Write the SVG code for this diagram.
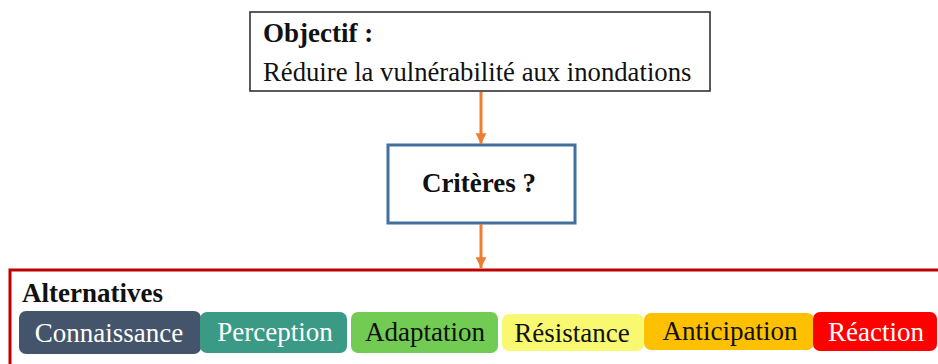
<svg xmlns="http://www.w3.org/2000/svg" width="938" height="364" viewBox="0 0 938 364" font-family="'Liberation Serif', 'DejaVu Serif', serif">
  <defs>
    <marker id="arrowhead" viewBox="0 0 10 10" refX="10" refY="5" markerWidth="3.6" markerHeight="4.4" markerUnits="strokeWidth" orient="auto">
      <path d="M0,0 L10,5 L0,10 z" fill="#ED7D31"/>
    </marker>
  </defs>
  <style>
    .bold { font-weight: bold; }
    .chip-label { font-size: 27px; text-anchor: middle; }
    .link { stroke: #ED7D31; stroke-width: 3; fill: none; marker-end: url(#arrowhead); }
  </style>
  <rect width="938" height="364" fill="#ffffff"/>

  <!-- objective -->
  <g id="objectif">
    <rect x="250" y="12" width="460" height="79" fill="#ffffff" stroke="#333333" stroke-width="1.6"/>
    <text x="263" y="42" class="bold" font-size="27" fill="#111111">Objectif :</text>
    <text x="263" y="81" font-size="26.7" fill="#111111">Réduire la vulnérabilité aux inondations</text>
  </g>

  <!-- criteria -->
  <g id="criteres">
    <rect x="388" y="145" width="187" height="78" fill="#ffffff" stroke="#41719C" stroke-width="3"/>
    <text x="479" y="192" class="bold" font-size="27" text-anchor="middle" fill="#111111">Critères ?</text>
  </g>

  <!-- alternatives frame with its options -->
  <g id="alternatives">
    <rect x="10" y="270" width="940" height="110" fill="#ffffff" stroke="#C00000" stroke-width="3"/>
    <text x="22" y="302" class="bold" font-size="27" fill="#111111">Alternatives</text>
  </g>

  <g id="connaissance">
    <rect x="19" y="311" width="182" height="43" rx="7" fill="#44546A"/>
    <text x="109" y="342" class="chip-label" fill="#ffffff">Connaissance</text>
  </g>
  <g id="perception">
    <rect x="200" y="312" width="147" height="41" rx="7" fill="#3A9A85"/>
    <text x="275" y="341" class="chip-label" fill="#ffffff">Perception</text>
  </g>
  <g id="adaptation">
    <rect x="351" y="312" width="147" height="41" rx="7" fill="#72CB52"/>
    <text x="425" y="341" class="chip-label" fill="#111111">Adaptation</text>
  </g>
  <g id="resistance">
    <rect x="502" y="314" width="142" height="37" rx="7" fill="#F8F871"/>
    <text x="572" y="342" class="chip-label" fill="#111111">Résistance</text>
  </g>
  <g id="anticipation">
    <rect x="644" y="313" width="170" height="37" rx="7" fill="#FFC000"/>
    <text x="730" y="340" class="chip-label" fill="#111111">Anticipation</text>
  </g>
  <g id="reaction">
    <rect x="813" y="312" width="124" height="39" rx="7" fill="#FF0000"/>
    <text x="876" y="341" class="chip-label" fill="#ffffff">Réaction</text>
  </g>

  <!-- connectors -->
  <g id="connectors">
    <line class="link" x1="481" y1="92" x2="481" y2="144"/>
    <line class="link" x1="481" y1="224" x2="481" y2="268"/>
  </g>
</svg>
